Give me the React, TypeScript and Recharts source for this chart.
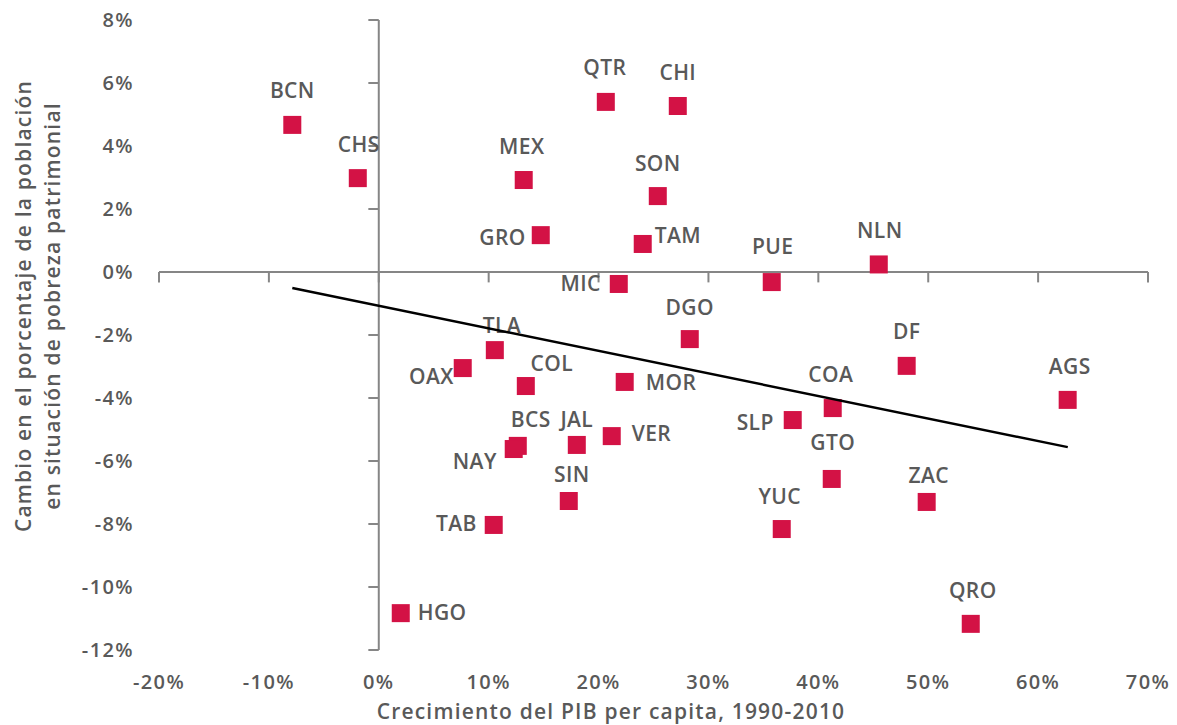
import { ReferenceLine, Scatter, ScatterChart, XAxis, YAxis } from 'recharts';

// crecimiento del PIB per capita (%) vs cambio en pobreza patrimonial (pp)
const STATES = ['BCN', 'CHS', 'QTR', 'CHI', 'MEX', 'SON', 'GRO', 'TAM', 'MIC', 'PUE', 'NLN', 'DGO', 'DF', 'AGS', 'TLA', 'OAX', 'COL', 'MOR', 'COA', 'SLP', 'BCS', 'NAY', 'JAL', 'VER', 'GTO', 'SIN', 'ZAC', 'TAB', 'YUC', 'HGO', 'QRO'];
const GDP_GROWTH = [-7.87, -1.91, 20.66, 27.21, 13.19, 25.39, 14.74, 24.02, 21.84, 35.76, 45.5, 28.3, 48.04, 62.69, 10.56, 7.64, 13.38, 22.38, 41.31, 37.67, 12.65, 12.28, 18.02, 21.2, 41.22, 17.29, 49.86, 10.46, 36.67, 2.0, 53.87];
const POVERTY_CHANGE = [4.67, 2.98, 5.4, 5.27, 2.92, 2.41, 1.17, 0.89, -0.38, -0.32, 0.24, -2.13, -2.98, -4.06, -2.48, -3.05, -3.62, -3.49, -4.32, -4.7, -5.52, -5.62, -5.49, -5.21, -6.57, -7.27, -7.3, -8.03, -8.16, -10.83, -11.17];

const TREND_X = [-7.87, 62.7];
const TREND_Y = [-0.51, -5.56];

const X_TICKS = [-20, -10, 0, 10, 20, 30, 40, 50, 60, 70];
const Y_TICKS = [-12, -10, -8, -6, -4, -2, 0, 2, 4, 6, 8];

const points = STATES.map((name, i) => ({ name, x: GDP_GROWTH[i], y: POVERTY_CHANGE[i] }));
const trend = TREND_X.map((x, i) => ({ x, y: TREND_Y[i] }));

// where each state label sits relative to its marker
type Anchor = 'start' | 'middle' | 'end';
const LABEL_PLACEMENT: Record<string, [Anchor, number, number]> = {
  BCN: ['middle', 0, -34], CHS: ['middle', 1, -34], QTR: ['middle', -1, -34], CHI: ['middle', 0, -34],
  MEX: ['middle', -2, -34], SON: ['middle', 0, -33], GRO: ['end', -15, 2], TAM: ['start', 12, -9],
  MIC: ['end', -18, -1], PUE: ['middle', 1, -36], NLN: ['middle', 1, -34], DGO: ['middle', 0, -32],
  DF: ['middle', 0, -34], AGS: ['middle', 2, -33], TLA: ['middle', 7, -25], OAX: ['end', -9, 8],
  COL: ['middle', 26, -23], MOR: ['start', 21, 1], COA: ['middle', -2, -34], SLP: ['end', -19, 2],
  BCS: ['middle', 13, -26], NAY: ['end', -17, 12], JAL: ['middle', 0, -25], VER: ['start', 20, -3],
  GTO: ['middle', 1, -37], SIN: ['middle', 3, -27], ZAC: ['middle', 2, -27], TAB: ['end', -17, -2],
  YUC: ['middle', -2, -33], HGO: ['start', 17, -1], QRO: ['middle', 2, -33],
};

const FONT = '"Open Sans", "Noto Sans", sans-serif';
const TEXT = '#595959';
const AXIS = '#868686';
const MARKER = '#d31245';

function StateMarker(props: any) {
  const { cx, cy, payload } = props;
  if (cx == null || cy == null) return null;
  const [anchor, dx, dy] = LABEL_PLACEMENT[payload.name] ?? ['middle', 0, -34];
  return (
    <g>
      <rect x={cx - 9} y={cy - 9} width={18} height={18} fill={MARKER} />
      <text
        x={cx + dx}
        y={cy + dy}
        dy="0.36em"
        textAnchor={anchor}
        fontFamily={FONT}
        fontSize={21}
        fontWeight={600}
        letterSpacing={0.4}
        fill={TEXT}
      >
        {payload.name}
      </text>
    </g>
  );
}

const tickStyle = { fontFamily: FONT, fontSize: 20, fontWeight: 600, fill: TEXT, letterSpacing: 1.4 };
const pct = (v: number) => `${v}%`;

export default function App() {
  return (
    <div style={{ marginTop: -8 }}>
      <ScatterChart width={1169} height={725} margin={{ top: 20, right: 29, bottom: 0, left: 0 }}>
        <XAxis
          type="number"
          dataKey="x"
          domain={[-20, 70]}
          ticks={X_TICKS}
          tickFormatter={pct}
          axisLine={false}
          tickLine={false}
          tickSize={0}
          tickMargin={25}
          height={75}
          tick={tickStyle}
          allowDataOverflow
          label={{
            content: () => (
              <text x={603} y={719} textAnchor="middle" fontFamily={FONT} fontSize={21} fontWeight={600} letterSpacing={1.2} fill={TEXT}>
                Crecimiento del PIB per capita, 1990-2010
              </text>
            ),
          }}
        />
        <YAxis
          type="number"
          dataKey="y"
          domain={[-12, 8]}
          ticks={Y_TICKS}
          tickFormatter={pct}
          axisLine={false}
          tickLine={false}
          tickSize={0}
          tickMargin={25}
          width={151}
          tick={tickStyle}
          allowDataOverflow
          label={{
            content: () => (
              <g fontFamily={FONT} fontSize={21} fontWeight={600} letterSpacing={1.2} fill={TEXT}>
                <text transform="translate(15,306) rotate(-90)" textAnchor="middle" dy="0.36em">
                  Cambio en el porcentaje de la población
                </text>
                <text transform="translate(44,306) rotate(-90)" textAnchor="middle" dy="0.36em">
                  en situación de pobreza patrimonial
                </text>
              </g>
            ),
          }}
        />
        <ReferenceLine y={0} stroke={AXIS} strokeWidth={2} />
        <ReferenceLine x={0} stroke={AXIS} strokeWidth={2} />
        {X_TICKS.map((t) => (
          <ReferenceLine
            key={`xt${t}`}
            segment={[{ x: t, y: 0 }, { x: t, y: -0.33 }]}
            stroke={AXIS}
            strokeWidth={2}
            ifOverflow="visible"
          />
        ))}
        {Y_TICKS.map((t) => (
          <ReferenceLine
            key={`yt${t}`}
            segment={[{ x: -0.95, y: t }, { x: 0, y: t }]}
            stroke={AXIS}
            strokeWidth={2}
            ifOverflow="visible"
          />
        ))}
        <Scatter data={points} shape={StateMarker} isAnimationActive={false} />
        <Scatter
          data={trend}
          line={{ stroke: '#000000', strokeWidth: 2.5 }}
          shape={() => <g />}
          isAnimationActive={false}
        />
      </ScatterChart>
    </div>
  );
}
